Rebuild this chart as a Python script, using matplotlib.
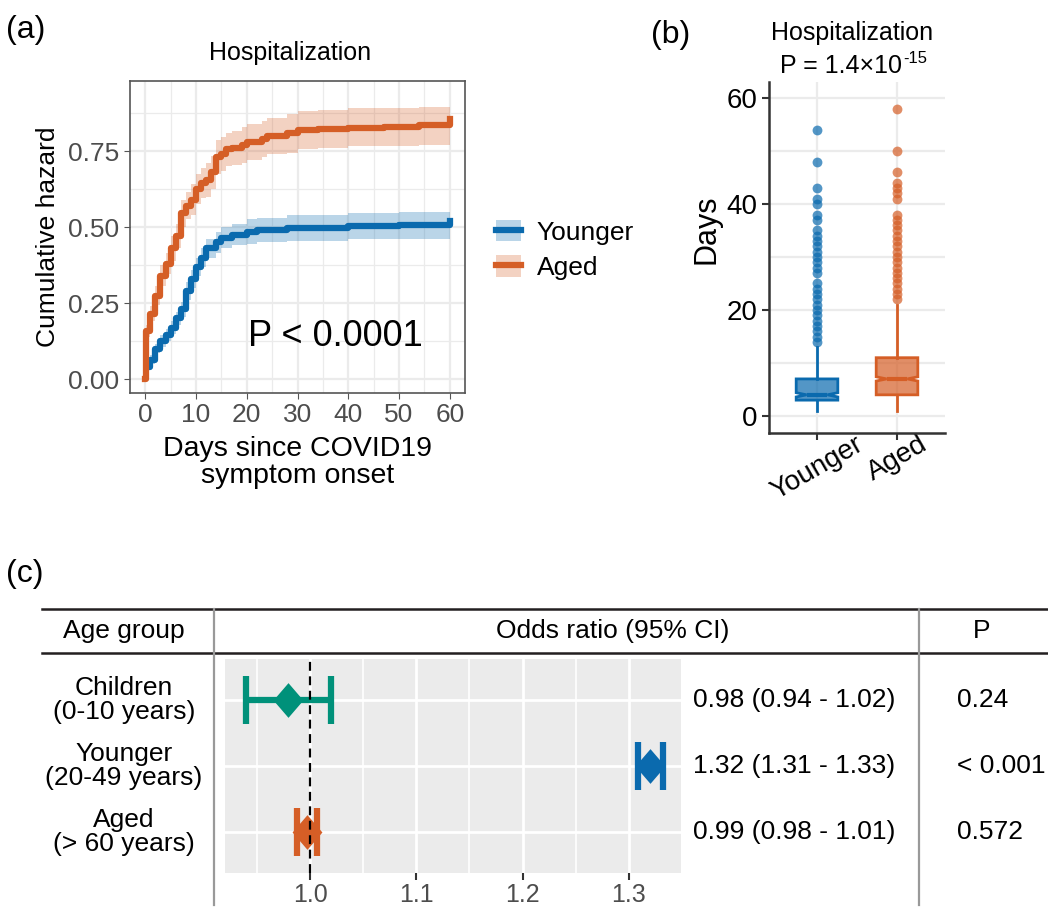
import matplotlib
matplotlib.use("Agg")
import matplotlib.pyplot as plt
import matplotlib.transforms as mtransforms
from matplotlib.lines import Line2D
from matplotlib.patches import Patch

plt.rcParams['font.family'] = ['Liberation Sans', 'DejaVu Sans']

# ---- DATA ----
# (a) cumulative hazard, step curves with 95% bands
aged_t = [0, 0.1, 1, 2, 3, 4, 5, 6, 7, 8, 9, 10, 11, 12, 13, 14, 15, 16, 17, 19,
          20, 23, 24, 28, 30, 34, 40, 47, 54, 60]
aged_v = [0, 0.16, 0.215, 0.275, 0.34, 0.38, 0.43, 0.47, 0.545, 0.57, 0.59, 0.625,
          0.645, 0.655, 0.68, 0.73, 0.74, 0.755, 0.76, 0.77, 0.78, 0.79, 0.80, 0.81,
          0.82, 0.823, 0.827, 0.83, 0.835, 0.855]
aged_lo = [0, 0.14, 0.19, 0.245, 0.305, 0.345, 0.39, 0.43, 0.50, 0.525, 0.54, 0.575,
           0.595, 0.60, 0.625, 0.675, 0.685, 0.70, 0.705, 0.71, 0.72, 0.73, 0.74, 0.745,
           0.755, 0.76, 0.765, 0.765, 0.77, 0.775]
aged_hi = [0, 0.18, 0.24, 0.305, 0.375, 0.415, 0.47, 0.51, 0.59, 0.615, 0.64, 0.675,
           0.695, 0.71, 0.735, 0.785, 0.795, 0.81, 0.815, 0.83, 0.84, 0.85, 0.86, 0.87,
           0.88, 0.885, 0.89, 0.89, 0.895, 0.90]

young_t = [0.3, 1, 2, 3, 4, 5, 6, 7, 8, 9, 10, 11, 12, 14, 15, 17, 20, 22, 28, 40, 50, 60]
young_v = [0.04, 0.065, 0.10, 0.125, 0.145, 0.17, 0.20, 0.23, 0.29, 0.33, 0.37, 0.40,
           0.43, 0.45, 0.465, 0.475, 0.485, 0.49, 0.497, 0.502, 0.508, 0.52]
young_lo = [0.03, 0.05, 0.085, 0.105, 0.125, 0.15, 0.18, 0.205, 0.26, 0.30, 0.34, 0.37,
            0.40, 0.415, 0.43, 0.44, 0.445, 0.45, 0.455, 0.46, 0.462, 0.465]
young_hi = [0.05, 0.08, 0.115, 0.145, 0.165, 0.19, 0.22, 0.255, 0.32, 0.36, 0.40, 0.43,
            0.46, 0.485, 0.50, 0.51, 0.525, 0.53, 0.54, 0.545, 0.55, 0.555]

# (b) boxplot stats (days) and outliers
groups = ["Younger", "Aged"]
box_q1 = [3, 4]
box_med = [4, 7]
box_q3 = [7, 11]
box_lo = [1, 1]
box_hi = [13, 21]
box_notch = [(3.6, 4.4), (6.6, 7.4)]
out_young = [14, 15, 16, 17, 18, 19, 20, 21, 22, 23, 24, 25, 27, 28, 29, 30, 31, 32,
             33, 34, 35, 37, 38, 40, 41, 43, 48, 54]
out_aged = [22, 23, 24, 25, 26, 27, 28, 29, 30, 31, 32, 33, 34, 35, 36, 37, 38, 41,
            42, 43, 44, 46, 50, 58]

# (c) forest plot
age_groups = ["Children\n(0-10 years)", "Younger\n(20-49 years)", "Aged\n(> 60 years)"]
odds = [0.979, 1.32, 0.997]
ci_lo = [0.94, 1.309, 0.988]
ci_hi = [1.02, 1.332, 1.007]
or_text = ["0.98 (0.94 - 1.02)", "1.32 (1.31 - 1.33)", "0.99 (0.98 - 1.01)"]
p_text = ["0.24", "< 0.001", "0.572"]

BLUE = "#0A6AAE"
ORANGE = "#D55E26"
GREEN = "#00917A"
GRID = "#EBEBEB"
TICKGREY = "#4D4D4D"

W, H = 1048, 907
fig = plt.figure(figsize=(W / 100, H / 100), dpi=100)


def fx(x):
    return x / W


def fy(y):
    return 1 - y / H


def box(x0, y0, x1, y1):
    return [fx(x0), fy(y1), fx(x1) - fx(x0), fy(y0) - fy(y1)]


# ---- (a) ----
ax = fig.add_axes(box(130, 81, 465, 393))
ax.fill_between(young_t, young_lo, young_hi, step="post", color=BLUE, alpha=0.28, lw=0)
ax.fill_between(aged_t, aged_lo, aged_hi, step="post", color=ORANGE, alpha=0.28, lw=0)
ax.step(young_t, young_v, where="post", color=BLUE, lw=4.5)
ax.step(aged_t, aged_v, where="post", color=ORANGE, lw=4.5)
ax.set_xlim(-3, 63)
ax.set_ylim(-0.045, 0.98)
ax.set_xticks([0, 10, 20, 30, 40, 50, 60])
ax.set_xticks([5, 15, 25, 35, 45, 55], minor=True)
ax.set_yticks([0, 0.25, 0.5, 0.75])
ax.set_yticklabels(["0.00", "0.25", "0.50", "0.75"])
ax.set_yticks([0.125, 0.375, 0.625, 0.875], minor=True)
ax.grid(True, which="major", color=GRID, lw=1.6)
ax.grid(True, which="minor", color=GRID, lw=0.9)
ax.set_axisbelow(True)
for s in ax.spines.values():
    s.set_color("#555555")
    s.set_linewidth(1.2)
ax.tick_params(which="major", labelsize=19, colors="#555555", labelcolor=TICKGREY, length=4)
ax.tick_params(which="minor", length=0)
fig.text(fx(290), fy(53), "Hospitalization", fontsize=18, ha="center", va="center")
ax.set_xlabel("Days since COVID19\nsymptom onset", fontsize=20.5, labelpad=6, linespacing=1.05)
ax.set_ylabel("Cumulative hazard", fontsize=19, labelpad=6)
ax.text(37.5, 0.14, "P < 0.0001", fontsize=26, ha="center", va="center")

handles = [(Patch(fc=BLUE, alpha=0.28, lw=0), Line2D([], [], color=BLUE, lw=4.5)),
           (Patch(fc=ORANGE, alpha=0.28, lw=0), Line2D([], [], color=ORANGE, lw=4.5))]
fig.legend(handles, ["Younger", "Aged"], loc="center left",
           bbox_to_anchor=(fx(472), fy(250)), frameon=False, fontsize=19,
           handlelength=0.95, handleheight=0.87, labelspacing=0.4, handletextpad=0.6)

# ---- (b) ----
bx = fig.add_axes(box(769, 82, 945, 433))
stats = []
for i, g in enumerate(groups):
    stats.append(dict(label=g, q1=box_q1[i], med=box_med[i], q3=box_q3[i],
                      whislo=box_lo[i], whishi=box_hi[i],
                      cilo=box_notch[i][0], cihi=box_notch[i][1], fliers=[]))
cols = [BLUE, ORANGE]
for i in range(2):
    bp = bx.bxp([stats[i]], positions=[i + 1], widths=0.52, patch_artist=True,
                shownotches=True, showcaps=False, showfliers=False)
    for b in bp["boxes"]:
        b.set_facecolor((*matplotlib.colors.to_rgb(cols[i]), 0.7))
        b.set_edgecolor(cols[i])
        b.set_linewidth(2)
    for w in bp["whiskers"]:
        w.set_color(cols[i])
        w.set_linewidth(2)
    for m in bp["medians"]:
        m.set_color(cols[i])
        m.set_linewidth(3)
bx.scatter([1] * len(out_young), out_young, s=50, color=BLUE, alpha=0.7, lw=0, zorder=3)
bx.scatter([2] * len(out_aged), out_aged, s=50, color=ORANGE, alpha=0.7, lw=0, zorder=3)
bx.set_xlim(0.4, 2.6)
bx.set_ylim(-3.2, 63)
bx.set_yticks([0, 20, 40, 60])
bx.set_yticks([10, 30, 50], minor=True)
bx.set_xticks([1, 2])
bx.set_xticklabels(groups, rotation=30, ha="center", fontsize=19)
bx.grid(True, which="major", color=GRID, lw=1.6)
bx.grid(True, which="minor", axis="y", color=GRID, lw=1.6)
bx.set_axisbelow(True)
bx.spines["top"].set_visible(False)
bx.spines["right"].set_visible(False)
for s in ["left", "bottom"]:
    bx.spines[s].set_color("#333333")
    bx.spines[s].set_linewidth(1.8)
bx.tick_params(which="major", labelsize=20, colors="#333333", labelcolor="black", length=5, width=1.5)
bx.tick_params(axis="x", pad=-6)
bx.tick_params(which="minor", length=0)
bx.set_ylabel("Days", fontsize=22)
bx.yaxis.set_label_coords(-0.27, 0.58)
fig.text(fx(852), fy(33), "Hospitalization", fontsize=18, ha="center", va="center")
ptxt = fig.text(fx(780), fy(66), "P = 1.4×10", fontsize=18, ha="left", va="center")
bx.annotate("-15", xy=(1, 1), xycoords=ptxt, xytext=(1, 2), textcoords="offset points",
            fontsize=12, ha="left", va="top", annotation_clip=False)

# ---- (c) ----
cx = fig.add_axes(box(225, 659, 681, 873))
ypos = [3, 2, 1]
fcols = [GREEN, BLUE, ORANGE]
cx.set_facecolor(GRID)
for i in range(3):
    cx.errorbar(odds[i], ypos[i], xerr=[[odds[i] - ci_lo[i]], [ci_hi[i] - odds[i]]],
                fmt="none", ecolor=fcols[i], elinewidth=4.5, capsize=17, capthick=4.5, zorder=3)
    cx.plot(odds[i], ypos[i], marker=[(0, 1), (0.86, 0), (0, -1), (-0.86, 0)],
            ms=25, color=fcols[i], mew=0, ls="none", zorder=4)
cx.axvline(1.0, color="black", ls=(0, (4, 2.5)), lw=1.6, zorder=5)
cx.set_xlim(0.92, 1.349)
cx.set_ylim(0.39, 3.61)
cx.set_xticks([1.0, 1.1, 1.2, 1.3])
cx.set_xticklabels(["1.0", "1.1", "1.2", "1.3"])
cx.set_xticks([0.95, 1.05, 1.15, 1.25], minor=True)
cx.set_yticks(ypos)
cx.set_yticklabels([])
cx.grid(True, which="major", color="white", lw=2)
cx.grid(True, which="minor", axis="x", color="white", lw=1.2)
cx.set_axisbelow(True)
for s in cx.spines.values():
    s.set_visible(False)
cx.tick_params(axis="y", length=0)
cx.tick_params(axis="x", which="major", length=5, width=1.5, color="#333333",
               labelsize=18, labelcolor=TICKGREY, pad=2)
cx.tick_params(axis="x", which="minor", length=0)

rowtr = mtransforms.blended_transform_factory(fig.transFigure, cx.transData)
for i in range(3):
    fig.text(fx(124), ypos[i], age_groups[i], transform=rowtr, fontsize=19,
             ha="center", va="center", linespacing=1.0)
    fig.text(fx(693), ypos[i], or_text[i], transform=rowtr, fontsize=19,
             ha="left", va="center")
    fig.text(fx(957), ypos[i], p_text[i], transform=rowtr, fontsize=19,
             ha="left", va="center")

fig.text(fx(124), fy(631), "Age group", fontsize=19, ha="center", va="center")
fig.text(fx(613), fy(631), "Odds ratio (95% CI)", fontsize=19, ha="center", va="center")
fig.text(fx(982), fy(631), "P", fontsize=19, ha="center", va="center")

for yy in [609, 653]:
    fig.add_artist(Line2D([fx(42), 1], [fy(yy), fy(yy)], color="#231F20", lw=1.8))
for xx in [214, 919]:
    fig.add_artist(Line2D([fx(xx), fx(xx)], [fy(609), fy(905)], color="#999999", lw=1.6))

# panel tags
fig.text(fx(6), fy(30), "(a)", fontsize=23, ha="left", va="center")
fig.text(fx(651), fy(35), "(b)", fontsize=23, ha="left", va="center")
fig.text(fx(6), fy(574), "(c)", fontsize=23, ha="left", va="center")

fig.savefig("out.png", dpi=100)
